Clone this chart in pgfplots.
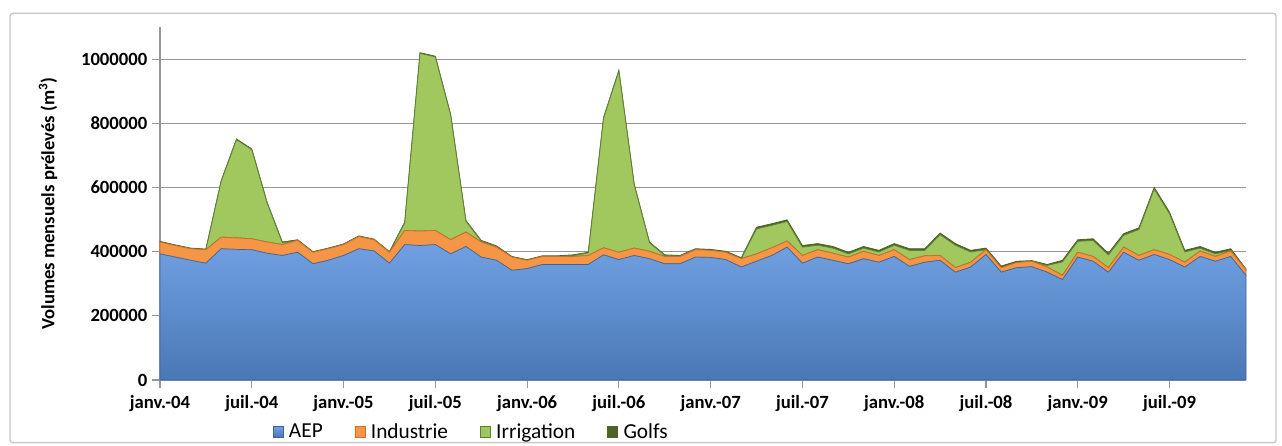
\documentclass[border=0pt]{standalone}
\usepackage{pgfplots}
\pgfplotsset{compat=1.18}
\usepackage{pgfplotstable}
\usepackage{fontspec}
\setmainfont{Carlito}

\definecolor{aepTop}{RGB}{112,160,225}
\definecolor{aepBot}{RGB}{74,120,182}
\definecolor{aepLine}{RGB}{60,100,160}
\definecolor{indFill}{RGB}{244,150,70}
\definecolor{indLine}{RGB}{205,110,40}
\definecolor{irrFill}{RGB}{160,200,94}
\definecolor{irrLine}{RGB}{98,128,50}
\definecolor{golfFill}{RGB}{79,98,40}
\definecolor{gridc}{RGB}{150,150,150}
\definecolor{framec}{RGB}{200,200,200}

% month index, AEP, Industrie, Irrigation, Golfs (m3)
\pgfplotstableread{
i AEP Ind Irr Golf
0 393000 37000 0 2000
1 383000 36000 0 2000
2 373000 36000 0 2000
3 364000 42000 0 2000
4 409000 36000 174000 2000
5 407000 36000 306000 2000
6 406000 34000 278000 2000
7 395000 35000 122000 2000
8 388000 34000 6000 2000
9 398000 37000 0 2000
10 362000 36000 0 2000
11 373000 36000 0 2000
12 388000 34000 0 2000
13 409000 38000 0 2000
14 402000 35000 0 2000
15 364000 34000 0 2000
16 422000 44000 24000 2000
17 419000 45000 554000 2000
18 422000 44000 541000 2000
19 393000 44000 389000 2000
20 416000 45000 34000 2000
21 383000 47000 3000 2000
22 373000 41000 2000 2000
23 342000 41000 0 2000
24 347000 26000 0 2000
25 360000 25000 0 2000
26 360000 25000 0 2000
27 360000 25000 3000 2000
28 360000 28000 8000 2000
29 390000 22000 404000 2000
30 375000 23000 565000 2000
31 388000 23000 198000 2000
32 378000 23000 27000 2000
33 362000 23000 3000 2000
34 362000 23000 1000 2000
35 383000 23000 1000 2000
36 382000 22000 0 3000
37 375000 23000 0 3000
38 352000 26000 0 3000
39 370000 23000 78000 5000
40 388000 24000 70000 5000
41 414000 19000 61000 5000
42 364000 24000 26000 5000
43 383000 23000 14000 5000
44 373000 22000 16000 5000
45 362000 21000 10000 5000
46 378000 23000 10000 5000
47 367000 21000 11000 5000
48 385000 21000 14000 5000
49 354000 21000 29000 5000
50 367000 20000 17000 5000
51 373000 15000 65000 5000
52 336000 14000 70000 5000
53 352000 15000 32000 5000
54 391000 15000 0 5000
55 336000 14000 0 5000
56 350000 16000 0 4000
57 353000 17000 0 2000
58 336000 16000 5000 3000
59 313000 13000 42000 5000
60 383000 15000 34000 5000
61 370000 15000 50000 5000
62 336000 14000 40000 5000
63 398000 16000 37000 5000
64 373000 15000 81000 5000
65 391000 15000 189000 5000
66 375000 16000 127000 5000
67 352000 15000 32000 5000
68 385000 17000 9000 5000
69 370000 15000 8000 5000
70 385000 17000 2000 5000
71 326000 18000 0 2000
}\data

\begin{document}
\begin{tikzpicture}
\useasboundingbox (0,0) rectangle (961.5pt,334.5pt);
\draw[framec, line width=1pt, rounded corners=2pt] (7.5pt,2.5pt) rectangle (957pt,324.5pt);
\begin{axis}[
  at={(120pt,49.5pt)}, anchor=south west,
  scale only axis,
  width=814.5pt, height=264.75pt,
  stack plots=y,
  xmin=0, xmax=71,
  ymin=0, ymax=1100000,
  scaled y ticks=false,
  axis x line*=bottom, axis y line*=left,
  axis line style={gridc, line width=0.8pt},
  tick style={gridc, line width=0.8pt},
  tick align=outside,
  major tick length=6pt,
  xtick={0,6,...,66},
  xticklabels={janv.-04,juil.-04,janv.-05,juil.-05,janv.-06,juil.-06,janv.-07,juil.-07,janv.-08,juil.-08,janv.-09,juil.-09},
  ytick={0,200000,400000,600000,800000,1000000},
  yticklabels={0,200000,400000,600000,800000,1000000},
  ymajorgrids,
  grid style={gridc, line width=0.8pt},
  ticklabel style={font=\fontsize{14}{16}\selectfont\bfseries, text=black},
  xticklabel style={yshift=-2pt},
  ylabel={Volumes mensuels prélevés (m\textsuperscript{3})},
  ylabel style={font=\fontsize{14}{16}\selectfont\bfseries, at={(axis description cs:-0.103,0.5)}, anchor=center},
  legend columns=4,
  legend style={at={(0.287,-0.147)}, anchor=center, draw=none, fill=none,
    font=\fontsize{16}{18}\selectfont,
    /tikz/every odd column/.append style={column sep=2pt},
    /tikz/every even column/.append style={column sep=22pt}},
  legend image code/.code={\path[#1] (0pt,-4pt) rectangle (7.5pt,4pt);},
  clip=false,
]
\addplot[draw=aepLine, line width=0.5pt, top color=aepTop, bottom color=aepBot] table[x=i, y=AEP] {\data} \closedcycle;
\addlegendentry{AEP}
\addplot[draw=indLine, line width=0.6pt, fill=indFill] table[x=i, y=Ind] {\data} \closedcycle;
\addlegendentry{Industrie}
\addplot[draw=irrLine, line width=0.6pt, fill=irrFill] table[x=i, y=Irr] {\data} \closedcycle;
\addlegendentry{Irrigation}
\addplot[draw=golfFill, line width=0.6pt, fill=golfFill] table[x=i, y=Golf] {\data} \closedcycle;
\addlegendentry{Golfs}
\end{axis}
\end{tikzpicture}
\end{document}
